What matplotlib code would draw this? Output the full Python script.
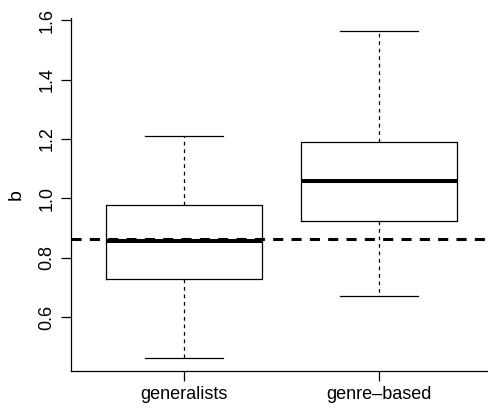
import matplotlib
matplotlib.use("Agg")
import matplotlib.pyplot as plt

plt.rcParams['font.family'] = ['Liberation Sans', 'DejaVu Sans']

# box statistics
groups = ['generalists', 'genre\u2013based']
whisker_low = [0.463, 0.672]
q1 = [0.727, 0.925]
medians = [0.856, 1.057]
q3 = [0.977, 1.190]
whisker_high = [1.211, 1.563]
reference_b = 0.862

stats = []
for i in range(len(groups)):
    stats.append({'label': groups[i], 'whislo': whisker_low[i], 'q1': q1[i],
                  'med': medians[i], 'q3': q3[i], 'whishi': whisker_high[i]})

fig = plt.figure(figsize=(4.88, 4.11), dpi=100)
ax = fig.add_axes([71/488, 40/411, 1 - 71/488, (371 - 18)/411])

ax.bxp(stats, positions=[1, 2], widths=0.8, showfliers=False,
       boxprops=dict(color='black', linewidth=0.9),
       medianprops=dict(color='black', linewidth=2.9, solid_capstyle='butt'),
       whiskerprops=dict(color='black', linewidth=0.9, linestyle=(0, (3, 3))),
       capprops=dict(color='black', linewidth=0.9), capwidths=0.4)

ax.axhline(reference_b, color='black', linewidth=2.2, linestyle=(0, (3.3, 2.7)))

ax.set_xlim(0.42, 2.557)
ax.set_ylim(0.419, 1.607)
ax.set_yticks([0.6, 0.8, 1.0, 1.2, 1.4, 1.6])
ax.set_yticklabels(['0.6', '0.8', '1.0', '1.2', '1.4', '1.6'], rotation=90, va='center')
ax.set_xticks([1, 2])
ax.set_xticklabels(groups)
ax.tick_params(direction='out', length=7, width=0.9, labelsize=13, pad=4)
ax.set_ylabel('b', fontsize=14, labelpad=10)

for s in ['top', 'right']:
    ax.spines[s].set_visible(False)
for s in ['left', 'bottom']:
    ax.spines[s].set_linewidth(0.9)

fig.savefig('out.png', dpi=100)
